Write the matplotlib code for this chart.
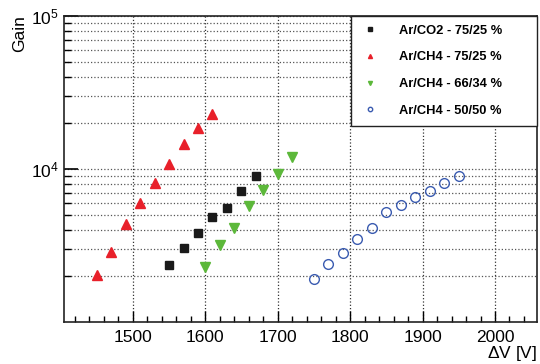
import numpy as np
import matplotlib
matplotlib.use("Agg")
import matplotlib.pyplot as plt
from matplotlib.ticker import FixedLocator, MultipleLocator, FuncFormatter, NullFormatter

plt.rcParams['font.family'] = ['Liberation Sans', 'DejaVu Sans']
plt.rcParams['mathtext.fontset'] = 'custom'
plt.rcParams['mathtext.rm'] = 'Liberation Sans'
plt.rcParams['mathtext.it'] = 'Liberation Sans'

# ---------------------------------------------------------------- data
co2_x = [1550, 1570, 1590, 1610, 1630, 1650, 1670]
co2_gain = [2360, 3045, 3815, 4860, 5560, 7180, 9000]

ch4_75_x = [1450, 1470, 1490, 1510, 1530, 1550, 1570, 1590, 1610]
ch4_75_gain = [2030, 2870, 4370, 6000, 8100, 10800, 14600, 18500, 23000]

ch4_66_x = [1600, 1620, 1640, 1660, 1680, 1700, 1720]
ch4_66_gain = [2290, 3190, 4110, 5730, 7290, 9270, 11980]

ch4_50_x = [1750, 1770, 1790, 1810, 1830, 1850, 1870, 1890, 1910, 1930, 1950]
ch4_50_gain = [1910, 2390, 2820, 3490, 4110, 5230, 5820, 6560, 7180, 8100, 9000]

labels = ['Ar/CO2 - 75/25 %', 'Ar/CH4 - 75/25 %', 'Ar/CH4 - 66/34 %', 'Ar/CH4 - 50/50 %']

# ---------------------------------------------------------------- figure
fig = plt.figure(figsize=(5.4, 3.64), dpi=100)
ax = fig.add_axes([64/540, 42/364, 473/540, 306/364])

ax.plot(co2_x, co2_gain, 's', color='#1a1a1a', ms=6, label=labels[0])
ax.plot(ch4_75_x, ch4_75_gain, '^', color='#e8202a', ms=6.5, label=labels[1])
ax.plot(ch4_66_x, ch4_66_gain, 'v', color='#5cb83a', ms=6.5, label=labels[2])
ax.plot(ch4_50_x, ch4_50_gain, 'o', mfc='none', mec='#3a5bb0', mew=1.0, ms=7, label=labels[3])

ax.set_yscale('log')
ax.set_ylim(1000, 100000)
ax.set_xlim(1405, 2058)

ax.xaxis.set_major_locator(MultipleLocator(100))
ax.xaxis.set_minor_locator(MultipleLocator(20))
ax.yaxis.set_major_locator(FixedLocator([1e4, 1e5]))
minor = [m * 10**d for d in (3, 4) for m in range(2, 10)]
ax.yaxis.set_minor_locator(FixedLocator(minor))
ax.yaxis.set_major_formatter(FuncFormatter(lambda v, p: r'$10^{%d}$' % int(round(np.log10(v)))))
ax.yaxis.set_minor_formatter(NullFormatter())

ax.tick_params(axis='both', which='both', direction='in', labelsize=12.5, top=False, right=False)
ax.tick_params(axis='x', which='major', length=8, width=1)
ax.tick_params(axis='x', which='minor', length=4, width=1)
ax.tick_params(axis='y', which='major', length=10, width=1.2)
ax.tick_params(axis='y', which='minor', length=5, width=1)
ax.tick_params(axis='x', pad=6)

ax.grid(True, axis='x', which='major', ls=':', color='#333333', lw=0.9)
ax.grid(True, axis='y', which='minor', ls=':', color='#555555', lw=0.9)
ax.grid(True, axis='y', which='major', ls=':', color='#555555', lw=0.9)

for s in ax.spines.values():
    s.set_linewidth(1.2)
    s.set_color('#222222')

fig.text(12/540, 1 - 15/364, 'Gain', rotation=90, ha='left', va='top', fontsize=12.5)
fig.text(537/540, 1 - 358/364, r'$\Delta$V [V]', ha='right', va='baseline', fontsize=12.5)

# legend box: x 351..537 px, y 16..123 px (ROOT style, left-aligned with spare room at right)
lx0 = (351 - 64) / 473
lh = (123 - 16) / 306
leg = ax.legend(loc='upper left', bbox_to_anchor=(lx0, 1 - lh, 1 - lx0, lh), mode='expand',
                borderaxespad=0, markerscale=0.45, handlelength=1.6,
                fancybox=False, framealpha=1, edgecolor='#222222', labelspacing=1.13,
                borderpad=0.68, handletextpad=1.4, prop={'weight': 'bold', 'size': 9.3})
leg.get_frame().set_linewidth(1.0)

fig.savefig('out.png', dpi=100)
